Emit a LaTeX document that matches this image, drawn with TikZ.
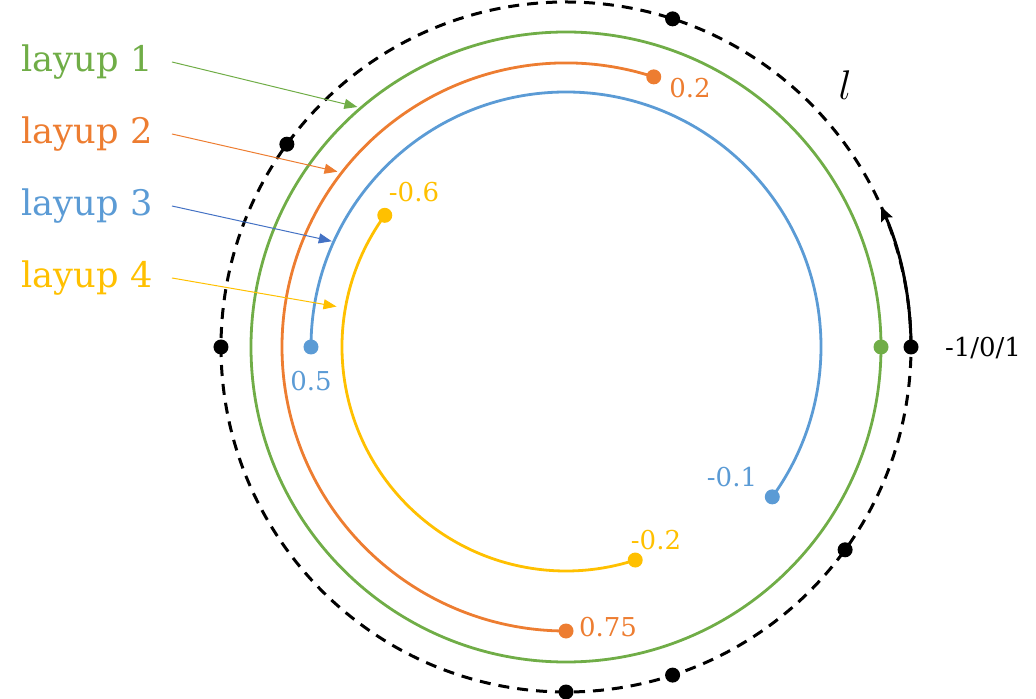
\documentclass[tikz,border=0pt]{standalone}
\usepackage{fontspec}
\setmainfont{DejaVu Serif}
\usepackage{tikz}
\usetikzlibrary{arrows.meta}

\definecolor{lgreen}{RGB}{112,173,71}
\definecolor{lorange}{RGB}{237,125,49}
\definecolor{lblue}{RGB}{91,155,213}
\definecolor{dblue}{RGB}{68,114,196}
\definecolor{lyellow}{RGB}{255,192,0}

\begin{document}
\begin{tikzpicture}[x=0.5pt,y=0.5pt,
   dot/.style={
      circle,
      fill,
      inner sep = 0pt,
      minimum size = 7.5pt
   },
   ring/.style={line width = 1.4pt},
   layup/.style={
      anchor = east,
      inner xsep = 9.5pt,
      inner ysep = 0pt,
      font = \fontsize{17.6}{20}\selectfont
   },
   val/.style={font = \fontsize{13}{15}\selectfont},
   pointer/.style={-{Triangle[length=6.5pt,width=5pt]}, line width = .5pt}
]
   \useasboundingbox (-566,-352) rectangle (470,347);

   % range of the parameter
   \draw[line width = 1.5pt, dash pattern = on 5.5pt off 4pt] (0,0) circle[radius=345];
   \foreach \a/\n in {0/k0,72/k1,144/k2,180/k3,270/k4,-36/k5,-72/k6}
      \node[dot] (\n) at (\a:345) {};
   \draw[line width = 1.5pt, -{Stealth[length=7pt,width=6pt,inset=1pt]}] (k0.center) arc[start angle=0, end angle=24, radius=345];
   \node[val, anchor=west] (range) at (372,-1) {-1/0/1};
   \node[font=\fontsize{21}{24}\selectfont] (ell) at (279,262) {$l$};

   % layup 1
   \draw[ring, lgreen] (0,0) circle[radius=315];
   \node[dot, lgreen] (g1) at (0:315) {};

   % layup 2
   \node[dot, lorange] (o1) at (72:284) {};
   \node[dot, lorange] (o2) at (270:284) {};
   \draw[ring, lorange] (o1.center) arc[start angle=72, end angle=270, radius=284];
   \node[val, text=lorange] (o1v) at (124,259) {0.2};
   \node[val, text=lorange] (o2v) at (42,-280) {0.75};

   % layup 3
   \node[dot, lblue] (b1) at (180:255) {};
   \node[dot, lblue] (b2) at (-36:255) {};
   \draw[ring, lblue] (b1.center) arc[start angle=180, end angle=-36, radius=255];
   \node[val, text=lblue] (b1v) at (-255,-34) {0.5};
   \node[val, text=lblue] (b2v) at (166,-130) {-0.1};

   % layup 4
   \node[dot, lyellow] (y1) at (144:224) {};
   \node[dot, lyellow] (y2) at (-72:224) {};
   \draw[ring, lyellow] (y1.center) arc[start angle=144, end angle=288, radius=224];
   \node[val, text=lyellow] (y1v) at (-152,155) {-0.6};
   \node[val, text=lyellow] (y2v) at (90,-193) {-0.2};

   % legend
   \coordinate (t1) at (131:318);
   \coordinate (t2) at (142.5:288);
   \coordinate (t3) at (155.7:257);
   \coordinate (t4) at (170:233);
   \node[layup, text=lgreen] (lay1) at (-394,285) {layup 1};
   \node[layup, text=lorange] (lay2) at (-394,213) {layup 2};
   \node[layup, text=lblue] (lay3) at (-394,141) {layup 3};
   \node[layup, text=lyellow] (lay4) at (-394,69) {layup 4};
   \draw[pointer, lgreen] (lay1.east) -- (t1);
   \draw[pointer, lorange] (lay2.east) -- (t2);
   \draw[pointer, dblue] (lay3.east) -- (t3);
   \draw[pointer, lyellow] (lay4.east) -- (t4);
\end{tikzpicture}
\end{document}
